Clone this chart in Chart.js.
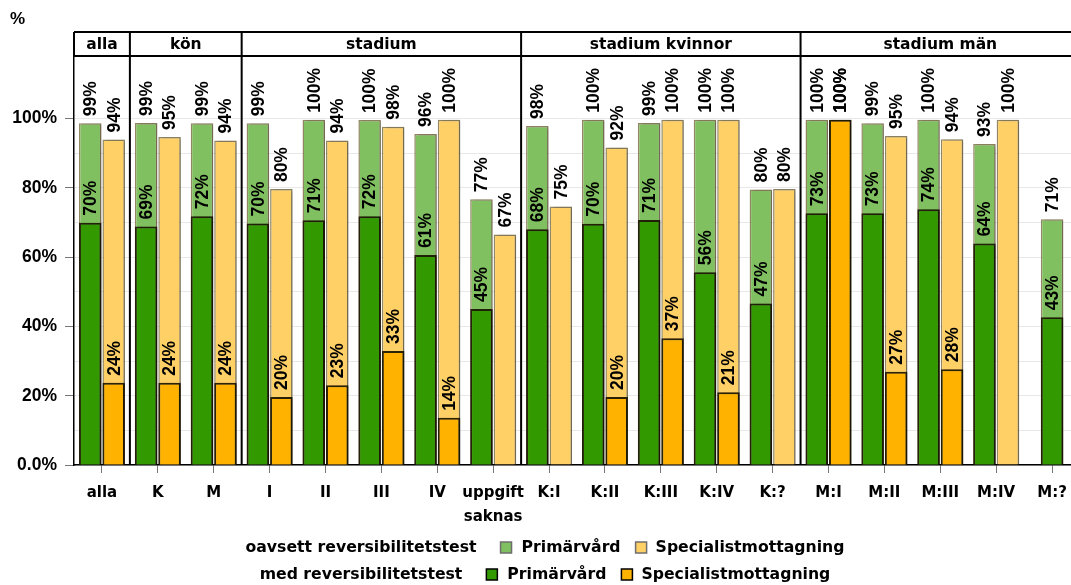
<!DOCTYPE html>
<html>
<head>
<meta charset="utf-8">
<script src="https://cdn.jsdelivr.net/npm/chart.js@4/dist/chart.umd.min.js"></script>
<style>
  html, body { margin: 0; padding: 0; background: #fff; overflow: hidden; }
  canvas { display: block; }
</style>
</head>
<body>
<canvas id="myChart" width="1090" height="585"></canvas>
<script>
// kategorier och grupper
var categories = ['alla', 'K', 'M', 'I', 'II', 'III', 'IV', ['uppgift', 'saknas'],
  'K:I', 'K:II', 'K:III', 'K:IV', 'K:?', 'M:I', 'M:II', 'M:III', 'M:IV', 'M:?'];
var groupNames = ['alla', 'kön', 'stadium', 'stadium kvinnor', 'stadium män'];
var groupSizes = [1, 2, 5, 5, 5];
var yTickLabels = [0, 20, 40, 60, 80, 100];

// oavsett reversibilitetstest (%)
var primarOavsett = [98.6, 98.7, 98.6, 98.6, 99.6, 99.5, 95.5, 76.7, 97.8, 99.6, 98.7, 99.6, 79.5, 99.6, 98.6, 99.6, 92.6, 70.9];
var specOavsett = [93.9, 94.6, 93.6, 79.6, 93.6, 97.6, 99.6, 66.5, 74.6, 91.6, 99.6, 99.6, 79.6, 99.6, 94.9, 94.0, 99.6, null];
// med reversibilitetstest (%)
var primarMed = [69.9, 68.8, 71.8, 69.7, 70.6, 71.8, 60.6, 45.0, 68.0, 69.6, 70.7, 55.6, 46.6, 72.6, 72.6, 73.8, 63.9, 42.6];
var specMed = [23.7, 23.7, 23.7, 19.6, 23.0, 32.9, 13.6, null, null, 19.6, 36.6, 21.0, null, 99.6, 26.9, 27.6, null, null];

var ljusGron = '#80c060', ljusOrange = '#ffd066';
var morkGron = '#339900', morkOrange = '#ffb300';
var ljusKant = 'rgba(110,95,50,0.75)', morkKant = 'rgba(25,20,0,0.9)';

var legendRows = [
  { title: 'oavsett reversibilitetstest', colors: [ljusGron, ljusOrange], border: 'rgba(110,110,110,1)' },
  { title: 'med reversibilitetstest', colors: [morkGron, morkOrange], border: '#000' }
];
var legendNames = ['Primärvård', 'Specialistmottagning'];

var labelFont = 'bold 15.7px "DejaVu Sans"';

// skugga bakom staplarna
var shadowPlugin = {
  id: 'shadow',
  beforeDatasetsDraw: function (chart) {
    var ctx = chart.ctx;
    ctx.save();
    ctx.shadowColor = 'rgba(0,0,0,0.22)';
    ctx.shadowOffsetX = 3;
    ctx.shadowBlur = 2;
  },
  afterDatasetsDraw: function (chart) {
    chart.ctx.restore();
  }
};

// procentetiketter ovanför staplarna
var labelPlugin = {
  id: 'barLabels',
  afterDatasetsDraw: function (chart) {
    var ctx = chart.ctx;
    ctx.save();
    ctx.font = 'bold 17.5px "Liberation Sans"';
    ctx.fillStyle = '#000';
    ctx.textAlign = 'left';
    ctx.textBaseline = 'middle';
    chart.data.datasets.forEach(function (ds, i) {
      var meta = chart.getDatasetMeta(i);
      meta.data.forEach(function (bar, j) {
        var v = ds.data[j];
        if (v === null || v === undefined) return;
        ctx.save();
        ctx.translate(bar.x, bar.y - 7);
        ctx.rotate(-Math.PI / 2);
        ctx.fillText(Math.round(v) + '%', 0, 1);
        ctx.restore();
      });
    });
    ctx.restore();
  }
};

// grupprubriker, avdelare, legend och "%"
var groupPlugin = {
  id: 'groups',
  afterDraw: function (chart) {
    var ctx = chart.ctx, area = chart.chartArea, xs = chart.scales.x;
    var top = 32;
    ctx.save();
    ctx.strokeStyle = '#000';
    ctx.lineWidth = 2;
    ctx.beginPath();
    ctx.moveTo(area.left, top); ctx.lineTo(area.right, top);
    ctx.moveTo(area.left, area.top); ctx.lineTo(area.right, area.top);
    ctx.moveTo(area.left, top); ctx.lineTo(area.left, area.top);
    ctx.stroke();

    ctx.font = 'bold 15.5px "DejaVu Sans"';
    ctx.fillStyle = '#000';
    ctx.textAlign = 'center';
    ctx.textBaseline = 'middle';
    var idx = 0;
    groupNames.forEach(function (name, g) {
      var end = idx + groupSizes[g];
      var x0 = idx === 0 ? area.left : (xs.getPixelForValue(idx - 1) + xs.getPixelForValue(idx)) / 2;
      var x1 = end >= categories.length ? area.right : (xs.getPixelForValue(end - 1) + xs.getPixelForValue(end)) / 2;
      if (idx > 0) {
        ctx.beginPath();
        ctx.moveTo(x0, top);
        ctx.lineTo(x0, area.bottom);
        ctx.stroke();
      }
      ctx.fillText(name, (x0 + x1) / 2, (top + area.top) / 2 + 1);
      idx = end;
    });

    // "%" uppe till vänster
    ctx.font = 'bold 17px "Liberation Sans"';
    ctx.textAlign = 'left';
    ctx.fillText('%', 10, 19);

    // legend i två rader
    ctx.font = labelFont;
    var rowY = [548, 575];
    legendRows.forEach(function (row, r) {
      var w = ctx.measureText(row.title).width + 24 + 12 + 9 +
        ctx.measureText(legendNames[0]).width + 15 + 12 + 8 +
        ctx.measureText(legendNames[1]).width;
      var x = 545 - w / 2, y = rowY[r];
      ctx.fillText(row.title, x, y);
      x += ctx.measureText(row.title).width + 24;
      for (var k = 0; k < 2; k++) {
        ctx.fillStyle = row.colors[k];
        ctx.fillRect(x, y - 6, 11, 11);
        ctx.lineWidth = 1.5;
        ctx.strokeStyle = row.border;
        ctx.strokeRect(x, y - 6, 11, 11);
        ctx.fillStyle = '#000';
        x += 12 + (k === 0 ? 9 : 8);
        ctx.fillText(legendNames[k], x, y);
        x += ctx.measureText(legendNames[k]).width + 15;
      }
    });
    ctx.restore();
  }
};

var ctx = document.getElementById('myChart').getContext('2d');
var myChart = new Chart(ctx, {
  type: 'bar',
  data: {
    labels: categories,
    datasets: [{
      label: 'Primärvård (oavsett)',
      data: primarOavsett,
      stack: 'p', order: 1,
      backgroundColor: ljusGron, borderColor: ljusKant, borderWidth: 1.5
    }, {
      label: 'Specialistmottagning (oavsett)',
      data: specOavsett,
      stack: 's', order: 1,
      backgroundColor: ljusOrange, borderColor: ljusKant, borderWidth: 1.5
    }, {
      label: 'Primärvård (med)',
      data: primarMed,
      stack: 'p', order: 0,
      backgroundColor: morkGron, borderColor: morkKant, borderWidth: 2
    }, {
      label: 'Specialistmottagning (med)',
      data: specMed,
      stack: 's', order: 0,
      backgroundColor: morkOrange, borderColor: morkKant, borderWidth: 2
    }]
  },
  options: {
    responsive: false,
    animation: false,
    categoryPercentage: 0.84,
    barPercentage: 1,
    maxBarThickness: 22.5,
    skipNull: true,
    layout: { padding: { top: 56, left: 0, right: 10, bottom: 56 } },
    plugins: { legend: { display: false }, tooltip: { enabled: false } },
    scales: {
      x: {
        grid: { drawOnChartArea: false, offset: false, tickLength: 8, tickColor: '#777' },
        border: { color: '#000', width: 1.5 },
        ticks: {
          autoSkip: false, maxRotation: 0, padding: 8, color: '#000',
          font: { family: 'DejaVu Sans', weight: 'bold', size: 15, lineHeight: 1.6 }
        },
        afterFit: function (s) { s.height = 64; }
      },
      y: {
        stacked: false,
        min: 0,
        max: 118,
        afterBuildTicks: function (s) {
          var t = [];
          for (var v = 0; v <= 100; v += 10) t.push({ value: v });
          s.ticks = t;
        },
        grid: {
          color: 'rgba(0,0,0,0.09)',
          tickLength: 9,
          tickColor: function (c) { return yTickLabels.indexOf(c.tick.value) >= 0 ? '#777' : 'rgba(0,0,0,0)'; }
        },
        border: { color: '#000', width: 1.5 },
        ticks: {
          padding: 8, color: '#000',
          font: { family: 'Liberation Sans', weight: 'bold', size: 17.5 },
          callback: function (v) {
            if (yTickLabels.indexOf(v) < 0) return '';
            return v === 0 ? '0.0%' : v + '%';
          }
        },
        afterFit: function (s) { s.width = 74; }
      }
    }
  },
  plugins: [shadowPlugin, labelPlugin, groupPlugin]
});
</script>
</body>
</html>
